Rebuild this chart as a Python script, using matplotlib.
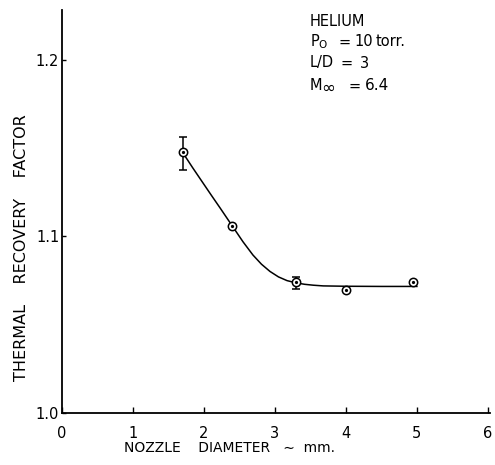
import numpy as np
import matplotlib
matplotlib.use("Agg")
import matplotlib.pyplot as plt

# Measured thermal recovery factor vs nozzle diameter (helium)
diameter_mm = [1.70, 2.40, 3.29, 4.00, 4.94]
recovery = [1.1478, 1.1060, 1.0740, 1.0698, 1.0744]
err_low = [0.0100, 0.0, 0.0036, 0.0, 0.0]
err_high = [0.0088, 0.0, 0.0033, 0.0, 0.0]

# Faired curve through the data
curve_x = [1.69, 1.84, 1.99, 2.11, 2.23, 2.40, 2.55, 2.69, 2.81, 2.93,
           3.05, 3.17, 3.30, 3.42, 3.54, 3.68, 4.00, 4.50, 5.00]
curve_y = [1.1482, 1.1390, 1.1301, 1.1230, 1.1160, 1.1059, 1.0970, 1.0895,
           1.0843, 1.0802, 1.0771, 1.0750, 1.0737, 1.0729, 1.0724, 1.0720,
           1.0718, 1.0717, 1.0717]

xticks = [0, 1, 2, 3, 4, 5, 6]
yticks = [1.0, 1.1, 1.2]
ytick_labels = ["1.0", "1.1", "1.2"]

plt.rcParams["font.family"] = ["DejaVu Sans"]

W, H = 495, 465
fig = plt.figure(figsize=(W / 100, H / 100), dpi=100)
ax = fig.add_axes([62 / W, 1 - 413 / H, 428 / W, 403 / H])

ax.plot(curve_x, curve_y, color="black", lw=1.1, zorder=2)
ax.errorbar(diameter_mm, recovery, yerr=[err_low, err_high], fmt="none",
            ecolor="black", elinewidth=1.1, capsize=3.2, capthick=1.1, zorder=3)
ax.plot(diameter_mm, recovery, "o", ms=6, mfc="white", mec="black", mew=1.1,
        zorder=4)
ax.plot(diameter_mm, recovery, "o", ms=1.3, color="black", zorder=5)

ax.set_xlim(0, 6.03)
ax.set_ylim(1.0, 1.2283)
ax.set_xticks(xticks)
ax.set_yticks(yticks)
ax.set_yticklabels(ytick_labels)

for s in ("top", "right"):
    ax.spines[s].set_visible(False)
for s in ("left", "bottom"):
    ax.spines[s].set_linewidth(1.3)

ax.tick_params(axis="x", direction="in", length=4, width=1.0, pad=9,
               labelsize=10.5)
ax.tick_params(axis="y", direction="in", length=3, width=1.0, pad=2,
               labelsize=10.5)

fig.text(229 / W, 1 - 448 / H, "NOZZLE    DIAMETER   \u223c  mm.", ha="center",
         va="center", fontsize=10)
fig.text(22 / W, 1 - 248 / H, "THERMAL    RECOVERY    FACTOR", ha="center",
         va="center", rotation=90, fontsize=11.5)

# Test conditions block
def put(px, py, s, size=10.5):
    fig.text(px / W, 1 - py / H, s, ha="left", va="center", fontsize=size)

put(310, 21, "HELIUM")
put(310, 42, r"P$_\mathregular{O}$")
put(339, 42, "=")
put(354, 42, "10")
put(376, 42, "torr.")
put(310, 63, "L/D")
put(341, 63, "=")
put(360, 63, "3")
put(310, 86, "M")
put(321, 88, "\u221e", size=12)
put(349, 86, "=")
put(365, 86, "6.4", size=11)

fig.savefig("out.png", dpi=100)
